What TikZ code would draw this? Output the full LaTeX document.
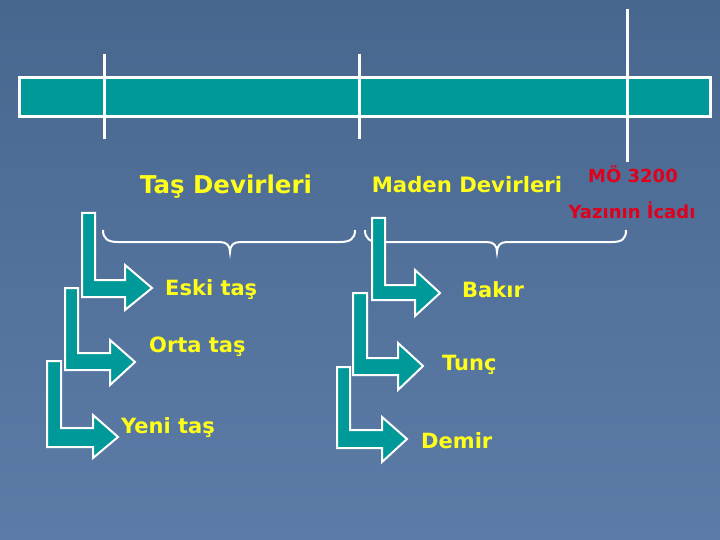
\documentclass[tikz,border=0pt]{standalone}
\usepackage{fontspec}
\setmainfont{DejaVu Sans}
\begin{document}
\begin{tikzpicture}[x=1pt,y=-1pt,
  bentarrow/.style={fill=arrowteal,draw=white,line width=2pt,line join=miter},
  tick/.style={draw=white,line width=3pt},
  bracestyle/.style={draw=white,line width=2pt},
  ylabel/.style={text=labelyellow,font=\bfseries\fontsize{21}{24}\selectfont,inner sep=0pt},
  rlabel/.style={text=labelred,font=\bfseries\fontsize{18}{21}\selectfont,inner sep=0pt},
  hlabel/.style={text=labelyellow,font=\bfseries\fontsize{24.5}{28}\selectfont,inner sep=0pt}]
\definecolor{bgtop}{HTML}{48678F}
\definecolor{bgbot}{HTML}{5C7CA7}
\definecolor{arrowteal}{HTML}{009999}
\definecolor{labelyellow}{HTML}{FFFF1A}
\definecolor{labelred}{HTML}{E0001C}
\useasboundingbox (0,0) rectangle (720,540);
\shade[top color=bgtop,bottom color=bgbot] (0,0) rectangle (720,540);
% timeline
\draw[fill=arrowteal,draw=white,line width=3pt] (19,78) rectangle (710,117);
\draw[tick] (104,54) -- (104,139);
\draw[tick] (359,54) -- (359,139);
\draw[tick] (627,9) -- (627,162);
% headings
\node[hlabel] (tas) at (226,187) {Taş Devirleri};
\node[hlabel,font=\bfseries\fontsize{21.2}{25}\selectfont] (maden) at (467,185) {Maden Devirleri};
\node[rlabel] (mo) at (633,174) {MÖ 3200};
\node[rlabel] (yazi) at (632,210) {Yazının İcadı};
% braces
\draw[bracestyle] (103,230) .. controls (103,239) and (108,242) .. (118,242) -- (220,242) .. controls (227,242) and (230,246) .. (230,252) .. controls (230,246) and (233,242) .. (240,242) -- (340,242) .. controls (350,242) and (355,239) .. (355,230);
\draw[bracestyle] (365,230) .. controls (365,239) and (370,242) .. (380,242) -- (487,242) .. controls (494,242) and (497,246) .. (497,252) .. controls (497,246) and (500,242) .. (507,242) -- (612,242) .. controls (622,242) and (626,239) .. (626,230);
% left arrows
\draw[bentarrow] (82,213) -- (95,213) -- (95,280) -- (125,280) -- (125,265) -- (152,288) -- (125,310) -- (125,297) -- (82,297) -- cycle;
\draw[bentarrow] (65,288) -- (78,288) -- (78,353) -- (110,353) -- (110,340) -- (135,362) -- (110,385) -- (110,370) -- (65,370) -- cycle;
\draw[bentarrow] (47,361) -- (61,361) -- (61,428) -- (93,428) -- (93,415) -- (118,437) -- (93,458) -- (93,447) -- (47,447) -- cycle;
\node[ylabel,anchor=west] (eski) at (165,290) {Eski taş};
\node[ylabel,anchor=west] (orta) at (149,347) {Orta taş};
\node[ylabel,anchor=west] (yeni) at (121,428) {Yeni taş};
% right arrows
\draw[bentarrow] (372,218) -- (385,218) -- (385,285) -- (415,285) -- (415,270) -- (440,293) -- (415,316) -- (415,300) -- (372,300) -- cycle;
\draw[bentarrow] (353,293) -- (367,293) -- (367,358) -- (398,358) -- (398,343) -- (423,366) -- (398,390) -- (398,375) -- (353,375) -- cycle;
\draw[bentarrow] (337,367) -- (350,367) -- (350,430) -- (382,430) -- (382,417) -- (407,439) -- (382,462) -- (382,448) -- (337,448) -- cycle;
\node[ylabel,anchor=west] (bakir) at (462,290) {Bakır};
\node[ylabel,anchor=west] (tunc) at (442,365) {Tunç};
\node[ylabel,anchor=west] (demir) at (421,441) {Demir};
\end{tikzpicture}
\end{document}
